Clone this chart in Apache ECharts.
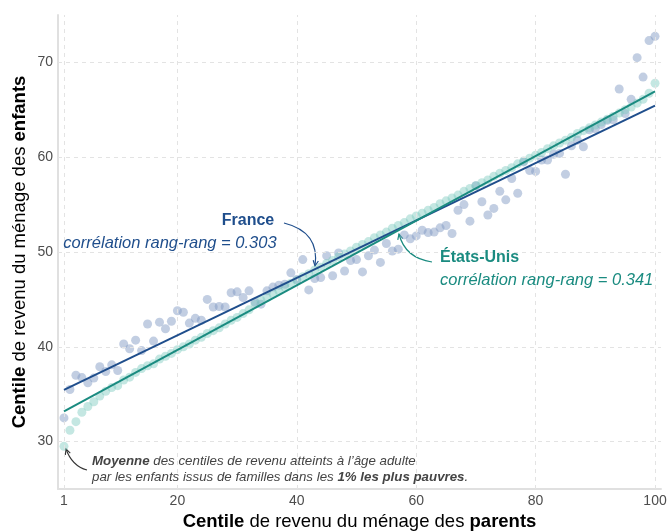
<!DOCTYPE html>
<html>
<head>
<meta charset="utf-8">
<script src="https://cdn.jsdelivr.net/npm/echarts@6/dist/echarts.min.js"></script>
<style>html,body{margin:0;padding:0;background:#fff}#c{width:670px;height:531px}</style>
</head>
<body>
<div id="c"></div>
<script>
// Parent income centile 1..100
const centiles = Array.from({length: 100}, (_, i) => i + 1);

// France: mean child income centile by parent centile
const franceValues = [
  32.5, 35.5, 37.0, 36.75, 36.2, 36.7, 37.9, 37.4, 38.1, 37.5,
  40.3, 39.8, 40.7, 39.6, 42.4, 40.6, 42.6, 41.9, 42.7, 43.8,
  43.65, 42.5, 43.0, 42.8, 45.0, 44.2, 44.25, 44.2, 45.7, 45.8,
  45.2, 45.9, 44.7, 44.5, 45.9, 46.3, 46.5, 46.6, 47.8, 47.1,
  49.2, 46.0, 47.2, 47.3, 49.6, 47.5, 49.9, 48.0, 49.1, 49.2,
  47.9, 49.6, 50.2, 48.9, 50.9, 50.1, 50.3, 51.8, 51.4, 51.7,
  52.3, 52.05, 52.1, 52.55, 52.8, 51.95, 54.4, 55.0, 53.25, 57.0,
  55.3, 53.9, 54.6, 56.4, 55.5, 57.75, 56.2, 59.5, 58.6, 58.5,
  59.7, 59.7, 60.3, 60.4, 58.2, 61.2, 61.8, 61.1, 62.9, 63.0,
  63.45, 63.9, 63.95, 67.2, 64.6, 66.1, 70.5, 68.45, 72.3, 72.75
];

// United States: mean child income centile by parent centile
const usValues = [
  29.5, 31.2, 32.1, 33.1, 33.7, 34.2, 34.8, 35.3, 35.7, 35.9,
  36.5, 36.8, 37.3, 37.7, 38.0, 38.2, 38.7, 39.0, 39.3, 39.7,
  40.0, 40.3, 40.7, 41.0, 41.4, 41.7, 42.0, 42.4, 42.8, 43.1,
  43.5, 43.9, 44.5, 44.9, 45.2, 45.6, 45.9, 46.3, 46.7, 47.0,
  47.4, 47.7, 48.1, 48.4, 48.8, 49.1, 49.5, 49.8, 50.1, 50.5,
  50.8, 51.1, 51.5, 51.8, 52.1, 52.5, 52.8, 53.1, 53.5, 53.8,
  54.1, 54.4, 54.7, 55.1, 55.4, 55.7, 56.0, 56.4, 56.7, 57.0,
  57.3, 57.6, 58.0, 58.3, 58.6, 58.9, 59.3, 59.6, 59.9, 60.2,
  60.5, 60.9, 61.2, 61.5, 61.8, 62.1, 62.5, 62.8, 63.1, 63.4,
  63.7, 64.0, 64.3, 64.65, 65.0, 65.3, 65.7, 66.1, 66.75, 67.8
];

// Fitted rank-rank regression lines (endpoints at centile 1 and 100)
const fitX = [1, 100];
const franceFit = [35.45, 65.45];
const usFit = [33.2, 66.95];

// Tick labels
const xTicks = [1, 20, 40, 60, 80, 100];
const yTicks = [30, 40, 50, 60, 70];

const FONT = '"Liberation Sans", Arial, sans-serif';
const FR_COL = '#1f4e8c';
const US_COL = '#1a8b80';
const TXT = '#4d4d4d';

const chart = echarts.init(document.getElementById('c'), null, {renderer: 'canvas'});

function arrow(x1, y1, cx, cy, x2, y2, color, w) {
  const ang = Math.atan2(y2 - cy, x2 - cx);
  const L = 6, a = 0.45;
  return {
    type: 'group', z: 100,
    children: [
      {type: 'bezierCurve', shape: {x1, y1, cpx1: cx, cpy1: cy, x2, y2},
       style: {stroke: color, lineWidth: w, fill: null}},
      {type: 'polyline', shape: {points: [
        [x2 - L * Math.cos(ang - a), y2 - L * Math.sin(ang - a)],
        [x2, y2],
        [x2 - L * Math.cos(ang + a), y2 - L * Math.sin(ang + a)]
      ]}, style: {stroke: color, lineWidth: w, fill: null}}
    ]
  };
}

const gridLines = xTicks.map(v => ({xAxis: v})).concat(yTicks.map(v => ({yAxis: v})));

const option = {
  backgroundColor: '#ffffff',
  animation: false,
  grid: {left: 58, right: 9, top: 15, bottom: 42, containLabel: false, outerBoundsMode: 'none'},
  xAxis: {
    type: 'value', min: 0, max: 101,
    name: '{b|Centile} de revenu du ménage des {b|parents}',
    nameLocation: 'middle', nameGap: 23,
    nameTextStyle: {fontFamily: FONT, fontSize: 18.5, color: '#000',
      rich: {b: {fontFamily: FONT, fontSize: 18.5, fontWeight: 'bold', color: '#000'}}},
    axisLine: {show: true, lineStyle: {color: '#e0e0e0', width: 2}},
    axisTick: {show: false},
    splitLine: {show: false},
    axisLabel: {customValues: xTicks, fontFamily: FONT, fontSize: 14, color: TXT, margin: 5}
  },
  yAxis: {
    type: 'value', min: 25, max: 75,
    name: '{b|Centile} de revenu du ménage des {b|enfants}',
    nameLocation: 'middle', nameGap: 29, nameRotate: 90, nameMoveOverlap: false,
    nameTextStyle: {fontFamily: FONT, fontSize: 18.5, color: '#000',
      rich: {b: {fontFamily: FONT, fontSize: 18.5, fontWeight: 'bold', color: '#000'}}},
    axisLine: {show: true, lineStyle: {color: '#e0e0e0', width: 2}},
    axisTick: {show: false},
    splitLine: {show: false},
    axisLabel: {customValues: yTicks, fontFamily: FONT, fontSize: 14, color: TXT, margin: 5}
  },
  series: [
    {
      type: 'line', data: [], silent: true, z: 0,
      markLine: {
        silent: true, symbol: 'none', label: {show: false},
        lineStyle: {color: '#e3e3e3', type: [4, 4], width: 1},
        data: gridLines
      }
    },
    {
      name: 'France', type: 'scatter', z: 2,
      data: centiles.map((c, i) => [c, franceValues[i]]),
      symbolSize: 9,
      itemStyle: {color: 'rgba(128,152,194,0.6)'}
    },
    {
      name: 'États-Unis', type: 'scatter', z: 3,
      data: centiles.map((c, i) => [c, usValues[i]]),
      symbolSize: 9,
      itemStyle: {color: 'rgba(120,200,190,0.55)'}
    },
    {
      name: 'France fit', type: 'line', z: 5, symbol: 'none',
      data: fitX.map((x, i) => [x, franceFit[i]]),
      lineStyle: {color: FR_COL, width: 2}
    },
    {
      name: 'US fit', type: 'line', z: 6, symbol: 'none',
      data: fitX.map((x, i) => [x, usFit[i]]),
      lineStyle: {color: US_COL, width: 2}
    }
  ],
  graphic: [
    {type: 'text', x: 248, y: 221, z: 100, style: {text: 'France', fill: FR_COL,
      font: 'bold 16px ' + FONT, textAlign: 'center', textVerticalAlign: 'middle'}},
    {type: 'text', x: 170, y: 243, z: 100, style: {text: 'corrélation rang-rang = 0.303', fill: FR_COL,
      font: 'italic 16.5px ' + FONT, textAlign: 'center', textVerticalAlign: 'middle'}},
    {type: 'text', x: 440, y: 258, z: 100, style: {text: 'États-Unis', fill: US_COL,
      font: 'bold 16px ' + FONT, textAlign: 'left', textVerticalAlign: 'middle'}},
    {type: 'text', x: 440, y: 280, z: 100, style: {text: 'corrélation rang-rang = 0.341', fill: US_COL,
      font: 'italic 16.5px ' + FONT, textAlign: 'left', textVerticalAlign: 'middle'}},
    {type: 'text', x: 92, y: 461, z: 100, style: {
      text: '{b|Moyenne} des centiles de revenu atteints à l\u2019âge adulte',
      fill: '#444', font: 'italic 13.3px ' + FONT, textAlign: 'left', textVerticalAlign: 'middle',
      rich: {b: {fontWeight: 'bold', fontStyle: 'italic', fontSize: 13.3, fontFamily: FONT, fill: '#444'}}}},
    {type: 'text', x: 92, y: 477, z: 100, style: {
      text: 'par les enfants issus de familles dans les {b|1% les plus pauvres}.',
      fill: '#444', font: 'italic 13.3px ' + FONT, textAlign: 'left', textVerticalAlign: 'middle',
      rich: {b: {fontWeight: 'bold', fontStyle: 'italic', fontSize: 13.3, fontFamily: FONT, fill: '#444'}}}},
    arrow(284, 223, 320, 232, 315, 266, FR_COL, 1.2),
    arrow(432, 262, 405, 258, 399, 234, US_COL, 1.2),
    arrow(87, 470, 72, 466, 66, 449, '#333', 1.1)
  ]
};
chart.setOption(option);
</script>
</body>
</html>
